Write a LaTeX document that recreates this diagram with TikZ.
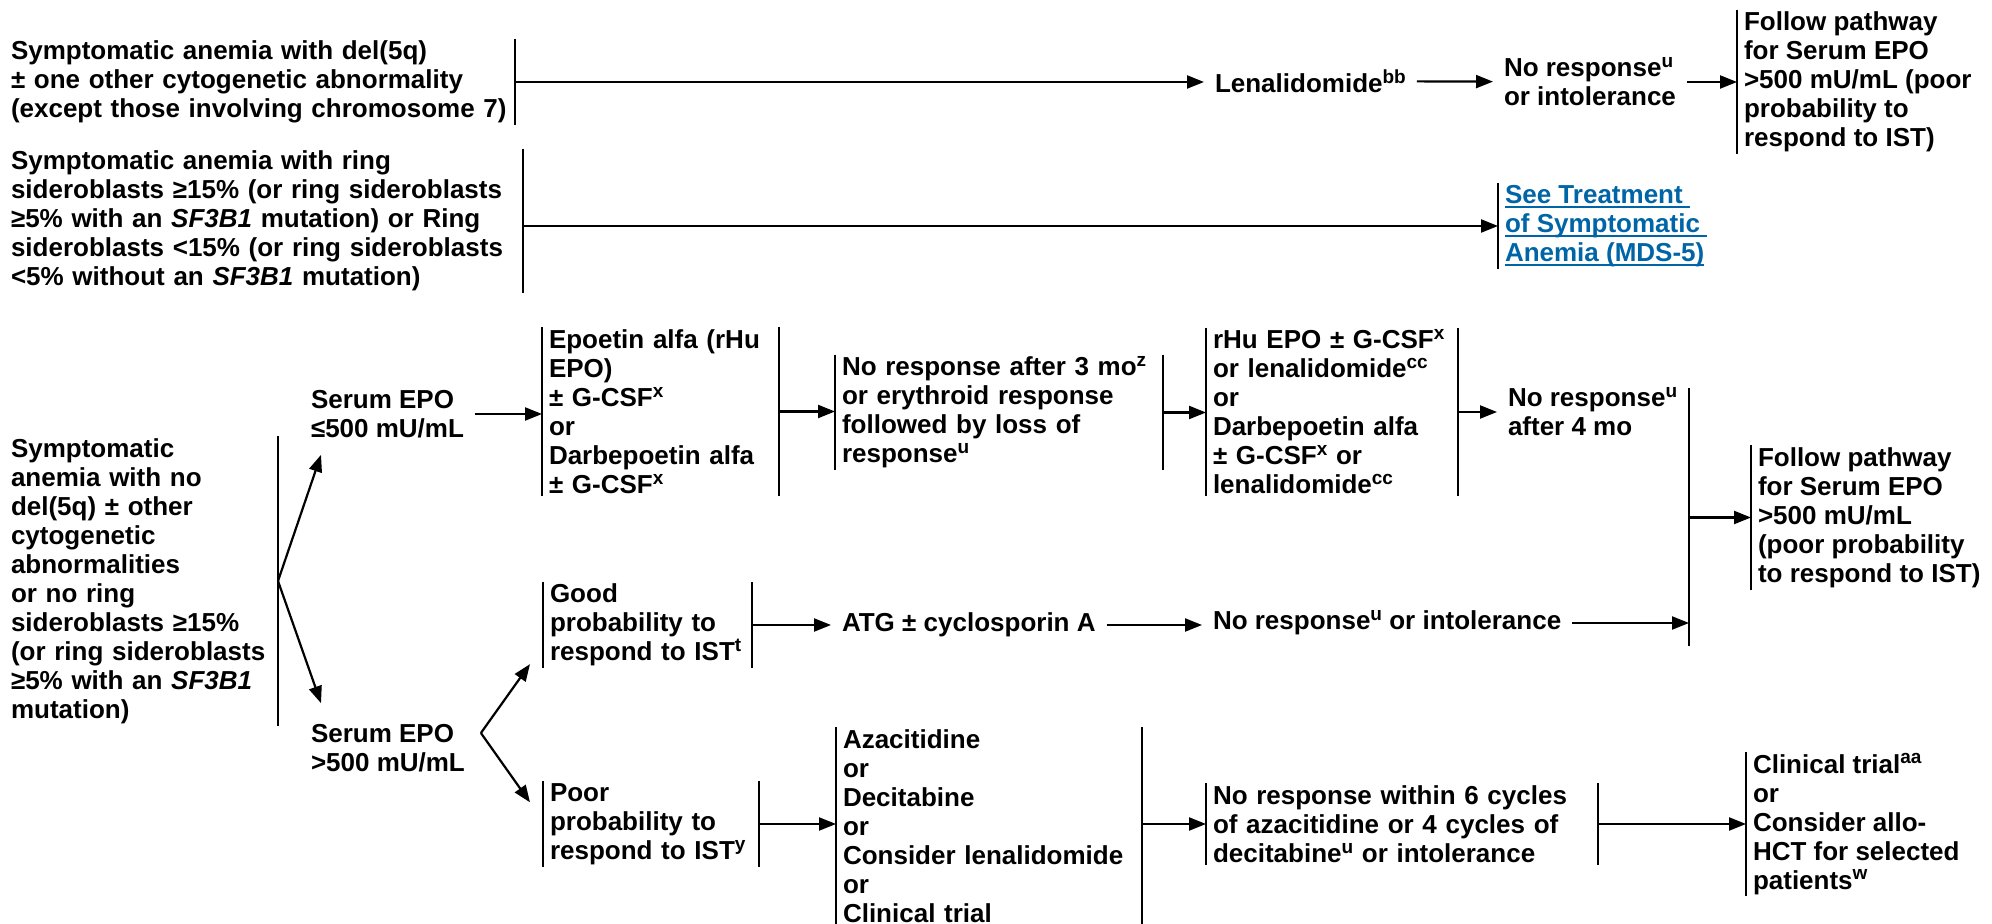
\documentclass[tikz,border=0pt]{standalone}
\usepackage{fontspec}
\setmainfont{Liberation Sans}
\usetikzlibrary{arrows.meta}
\definecolor{linkblue}{RGB}{0,101,166}
\newcommand{\lbar}[1]{\draw (#1.north west) -- (#1.south west);}
\newcommand{\rbar}[1]{\draw (#1.north east) -- (#1.south east);}
\newcommand{\sps}[1]{\raisebox{4.6pt}{\fontsize{9.5}{9.5}\selectfont #1}}
\newcommand{\lnk}[1]{\setbox0=\hbox{#1}\rlap{\rule[-2.4pt]{\wd0}{0.9pt}}\box0}

\begin{document}
\begin{tikzpicture}[x=0.5pt,y=-0.5pt,
    font=\fontsize{13}{14.5}\selectfont\bfseries,
    line width=1pt,
    >={Triangle[length=8.5pt,width=6.5pt]},
    brk/.style={anchor=west,align=left,inner xsep=3pt,inner ysep=0.5pt},
    txt/.style={anchor=west,align=left,inner xsep=5pt,inner ysep=3pt},
    arr/.style={->,line width=1.1pt}]
  \useasboundingbox (0,0) rectangle (1992,924);

  % del(5q) row
  \node[brk,text width=248.5pt] (del) at (4,82) {Symptomatic anemia with del(5q)\\
    ± one other cytogenetic abnormality\\(except those involving chromosome 7)};
  \node[txt] (lena) at (1204,81) {Lenalidomide\sps{bb}};
  \node[txt] (noresA) at (1493,82) {No response\sps{u}\\or intolerance};
  \node[brk] (followA) at (1737,82) {Follow pathway\\for Serum EPO\\>500 mU/mL (poor\\probability to\\respond to IST)};
  \rbar{del} \lbar{followA}
  \path[arr] (del.east) edge (del.east -| lena.west);
  \path[arr] (lena) edge (noresA);
  \path[arr] (noresA.east) edge (noresA.east -| followA.west);

  % ring sideroblasts row
  \node[brk,text width=252.5pt] (ring) at (4,221) {Symptomatic anemia with ring\\
    sideroblasts ≥15\% (or ring sideroblasts\\≥5\% with an \textit{SF3B1} mutation) or Ring\\
    sideroblasts <15\% (or ring sideroblasts\\<5\% without an \textit{SF3B1} mutation)};
  \node[brk,text=linkblue] (see) at (1498,226) {\lnk{See Treatment\ }\\
    \lnk{of Symptomatic\ }\\\lnk{Anemia (MDS-5)}};
  \rbar{ring} \lbar{see}
  \path[arr] (ring.east |- see.west) edge (see.west);

  % no del(5q) row
  \node[brk,text width=130pt] (nodel) at (4,581) {Symptomatic\\anemia with no\\del(5q) ± other\\
    cytogenetic\\abnormalities\\or no ring\\sideroblasts ≥15\%\\(or ring sideroblasts\\
    ≥5\% with an \textit{SF3B1}\\mutation)};
  \rbar{nodel}
  \node[txt] (low) at (300,414) {Serum EPO\\≤500 mU/mL};
  \node[txt] (high) at (300,748) {Serum EPO\\>500 mU/mL};
  \draw[arr] (nodel.east) -- ([xshift=10.5pt,yshift=-5pt]low.south west);
  \draw[arr] (nodel.east) -- ([xshift=10.5pt,yshift=7pt]high.north west);

  % EPO <= 500
  \node[brk,text width=111.5pt] (epo) at (542,411.5) {Epoetin alfa (rHu\\EPO)\\
    ± G-CSF\sps{x}\\or\\Darbepoetin alfa\\± G-CSF\sps{x}};
  \node[brk,text width=157pt] (nores3) at (835,412.5) {No response after 3 mo\sps{z}\\
    or erythroid response\\followed by loss of\\response\sps{u}};
  \node[brk,text width=119pt] (rhu) at (1206,412) {rHu EPO ± G-CSF\sps{x}\\
    or lenalidomide\sps{cc}\\or\\Darbepoetin alfa\\± G-CSF\sps{x} or\\
    lenalidomide\sps{cc}};
  \node[txt] (nores4) at (1497,412) {No response\sps{u}\\after 4 mo};
  \lbar{epo} \rbar{epo} \lbar{nores3} \rbar{nores3} \lbar{rhu} \rbar{rhu}
  \path[arr] (low.east) edge (low.east -| epo.west);
  \path[arr] (epo.east) edge (epo.east -| nores3.west);
  \path[arr] (nores3.east) edge (nores3.east -| rhu.west);
  \path[arr] (rhu.east) edge (rhu.east -| nores4.west);

  % EPO > 500
  \coordinate (fork) at ([xshift=2.5pt,yshift=7.5pt]high.east);
  \node[brk,text width=97.5pt] (good) at (543,625) {Good\\probability to\\respond to IST\sps{t}};
  \node[brk,text width=101pt] (poor) at (543,824) {Poor\\probability to\\respond to IST\sps{y}};
  \lbar{good} \rbar{good} \lbar{poor} \rbar{poor}
  \draw[arr] (fork) -- ([xshift=-6.5pt,yshift=2pt]good.south west);
  \draw[arr] (fork) -- ([xshift=-6.5pt,yshift=-10.5pt]poor.north west);

  \node[txt] (atg) at (831,625) {ATG ± cyclosporin A};
  \node[txt] (noresI) at (1202,623) {No response\sps{u} or intolerance};
  \path[arr] (good.east) edge (good.east -| atg.west);
  \path[arr] (atg.east) edge (atg.east -| noresI.west);

  \node[brk,text width=146pt] (aza) at (836,826) {Azacitidine\\or\\Decitabine\\or\\
    Consider lenalidomide\\or\\Clinical trial};
  \node[brk,text width=189pt] (nores6) at (1206,824) {No response within 6 cycles\\
    of azacitidine or 4 cycles of\\decitabine\sps{u} or intolerance};
  \node[brk] (trial) at (1746,824) {Clinical trial\sps{aa}\\or\\Consider allo-\\
    HCT for selected\\patients\sps{w}};
  \lbar{aza} \rbar{aza} \lbar{nores6} \rbar{nores6} \lbar{trial}
  \path[arr] (poor.east) edge (poor.east -| aza.west);
  \path[arr] (aza.east |- nores6.west) edge (nores6.west);
  \path[arr] (nores6.east) edge (nores6.east -| trial.west);

  % collector
  \coordinate (ctop) at (1689,388);
  \coordinate (cbot) at (1689,646);
  \node[brk] (followB) at (1751,517.5) {Follow pathway\\for Serum EPO\\>500 mU/mL\\
    (poor probability\\to respond to IST)};
  \lbar{followB}
  \draw (ctop) -- (cbot);
  \path[arr] (noresI.east) edge (noresI.east -| ctop);
  \path[arr] (ctop |- followB.west) edge (followB.west);
\end{tikzpicture}
\end{document}
